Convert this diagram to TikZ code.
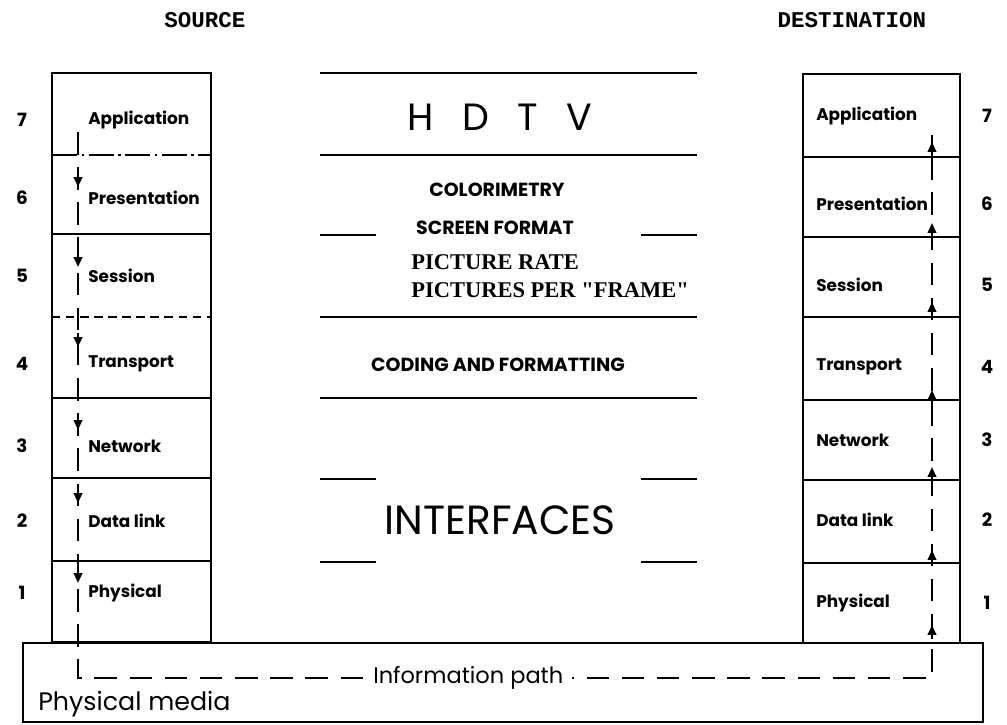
\documentclass[tikz,border=0pt]{standalone}
\usepackage{fontspec}
\usetikzlibrary{positioning,arrows.meta}
\setmainfont{Liberation Serif}
\newfontfamily\layerfont{Poppins}
\newfontfamily\typefont{Liberation Mono}

\begin{document}
\begin{tikzpicture}[x=0.025cm,y=-0.025cm,
	stack/.style={line width=1.5pt},
	rule/.style={line width=1.5pt},
	head/.style={inner sep=0pt, font=\typefont\bfseries\fontsize{16}{18}\selectfont},
	layer/.style={anchor=west, inner sep=0pt, font=\layerfont\bfseries\fontsize{12}{14}\selectfont},
	num/.style={inner sep=0pt, font=\layerfont\bfseries\fontsize{13}{15}\selectfont},
	caps/.style={inner sep=0pt, font=\layerfont\bfseries\fontsize{13.5}{15}\selectfont},
	serifcaps/.style={anchor=west, inner sep=0pt, font=\bfseries\fontsize{16}{18}\selectfont},
	infopath/.style={line width=1.5pt, dash pattern=on 16pt off 9pt},
	flowtip/.style={line width=1.5pt, -{Triangle[length=7pt,width=6pt]}}
	]
	\useasboundingbox (0,0) rectangle (1007,724);

	% headings
	\node[head] (src) at (205,20) {SOURCE};
	\node[head] (dst) at (852,20) {DESTINATION};

	% source stack
	\draw[stack] (52,73) rectangle (211,642);
	\draw[stack, dash pattern=on 18pt off 3pt on 2pt off 3pt] (52,155) -- (211,155);
	\draw[stack] (52,234) -- (211,234);
	\draw[stack, dash pattern=on 6pt off 4pt] (52,317) -- (211,317);
	\foreach \y in {398,478,561}
		\draw[stack] (52,\y) -- (211,\y);
	\foreach \name/\txt/\y/\n in {app/Application/120/7, pres/Presentation/198/6,
		ses/Session/276/5, tra/Transport/364/4, net/Network/446/3,
		dl/Data link/521/2, phy/Physical/593/1} {
		\node[layer] (s\name) at (88,\y) {\txt};
		\node[num] (sn\name) at (22,\y) {\n};
	}

	% destination stack
	\draw[stack] (803,74) rectangle (960,643);
	\foreach \y in {157,237,317,400,480,563}
		\draw[stack] (803,\y) -- (960,\y);
	\foreach \name/\txt/\y/\n in {app/Application/116/7, pres/Presentation/204/6,
		ses/Session/285/5, tra/Transport/367/4, net/Network/440/3,
		dl/Data link/520/2, phy/Physical/603/1} {
		\node[layer] (d\name) at (816,\y) {\txt};
		\node[num] (dn\name) at (987,\y) {\n};
	}

	% HDTV layers in the middle
	\foreach \y in {73,155,317,398}
		\draw[rule] (320,\y) -- (697,\y);
	\foreach \y in {235,479,562} {
		\draw[rule] (320,\y) -- (376,\y);
		\draw[rule] (641,\y) -- (697,\y);
	}
	\node[inner sep=0pt, font=\layerfont\fontsize{27}{30}\selectfont] (hdtv) at (500,117)
		{H\hspace{0.75em}D\hspace{0.75em}T\hspace{0.75em}V};
	\node[caps] (color) at (497,190) {COLORIMETRY};
	\node[caps] (screen) at (495,228) {SCREEN FORMAT};
	\node[serifcaps] (rate) at (411,262) {PICTURE RATE};
	\node[serifcaps] (frame) at (411,290) {PICTURES PER \textquotedbl FRAME\textquotedbl};
	\node[caps] (coding) at (498,365) {CODING AND FORMATTING};
	\node[inner sep=0pt, font=\layerfont\fontsize{29}{32}\selectfont] (iface) at (500,520) {INTERFACES};

	% physical media
	\draw[stack] (23,643) rectangle (983,722);
	\node[anchor=west, inner sep=0pt, font=\layerfont\fontsize{18}{20}\selectfont] (media) at (38,704) {Physical media};

	% information path from source down to destination up
	\coordinate (srcTop) at (78,132);
	\coordinate (srcCorner) at (78,678);
	\coordinate (dstCorner) at (932,678);
	\coordinate (dstTop) at (932,135);
	\draw[infopath] (srcTop) -- (srcCorner) -- (dstCorner) -- (dstTop);
	\path (srcCorner) -- (dstCorner)
		node[pos=0.457, fill=white, inner xsep=6pt, inner ysep=2pt,
			font=\layerfont\fontsize{16}{18}\selectfont] (info) {Information path};

	% arrow heads along the path, down on the source side, up on the destination side
	\foreach \y in {187,267,347,430,503,583}
		\draw[flowtip] (78,\y-14) -- (78,\y);
	\foreach \y in {142,223,302,390,467,550,625}
		\draw[flowtip] (932,\y+14) -- (932,\y);
\end{tikzpicture}
\end{document}
